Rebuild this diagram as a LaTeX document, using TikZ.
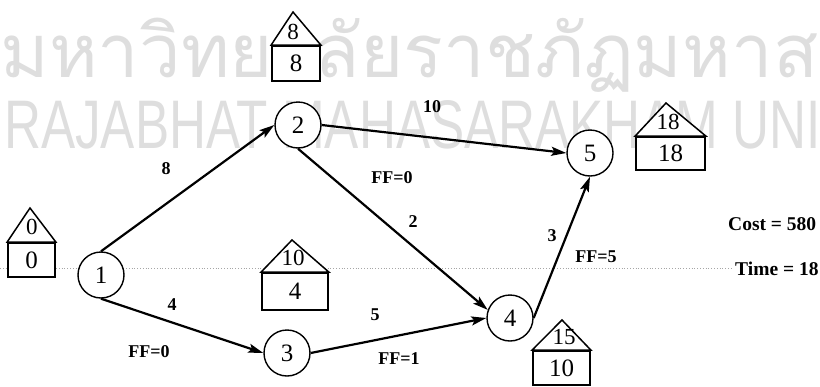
\documentclass[tikz,border=0pt]{standalone}
\usepackage{fontspec}
\setmainfont{Liberation Serif}
\setsansfont{Liberation Sans}
\newfontfamily\thaifont[Script=Thai]{Loma}
\usetikzlibrary{arrows.meta}
\definecolor{wm}{gray}{0.87}
\tikzset{
  ev/.style={circle, draw, line width=1.4pt, minimum size=46pt, inner sep=0pt, fill=white, font=\fontsize{25}{25}\selectfont},
  hbox/.style={draw, fill=white, line width=1.8pt, inner sep=0pt, font=\fontsize{25}{25}\selectfont},
  roof/.style={line width=1.5pt, line join=miter, fill=white},
  htxt/.style={inner sep=0pt, font=\fontsize{23}{23}\selectfont},
  lbl/.style={inner sep=0pt, font=\bfseries\fontsize{18}{18}\selectfont},
  side/.style={inner sep=0pt, anchor=west, font=\bfseries\fontsize{19.5}{19.5}\selectfont},
  arr/.style={line width=2.2pt, -{Stealth[length=15pt,width=9pt,inset=3pt]}},
  dotline/.style={gray!70, dotted, line width=0.8pt}
}
\begin{document}
\begin{tikzpicture}[x=1pt,y=-1pt]
\useasboundingbox (0,0) rectangle (820,386);
\clip (0,0) rectangle (820,386);
% watermark
\node[anchor=base west, inner sep=0pt, text=wm] (wmth) at (0,77) {\resizebox{818pt}{!}{\thaifont มหาวิทยาลัยราชภัฏมหาส}};
\node[anchor=base west, inner sep=0pt, text=wm] (wmen) at (4,148) {\resizebox{816pt}{48pt}{\sffamily RAJABHAT MAHASARAKHAM UNI}};
% dotted line
\coordinate (dl) at (0,268);
\coordinate (dr) at (733,268);
\draw[dotline] (dl) -- (dr);
% events
\node[ev] (n1) at (101,275) {1};
\node[ev] (n2) at (298,125) {2};
\node[ev] (n3) at (287,353) {3};
\node[ev] (n4) at (510,318) {4};
\node[ev] (n5) at (590,153) {5};
% arrows
\draw[arr] (n1.north) -- (n2.west);
\draw[arr] (n1.south) -- (n3.west);
\draw[arr] (n2.east) -- (n5.west);
\draw[arr] (n2.south) -- (n4.160);
\draw[arr] (n3.east) -- (n4.west);
\draw[arr] (n4.east) -- (n5.south);
% houses
\node[hbox, minimum width=47pt, minimum height=34pt] (b1) at (31.5,260) {0};
\coordinate (a1) at (30,208);
\draw[roof] (b1.north west) -- (a1) -- (b1.north east) -- cycle;
\node[htxt] (t1) at (32,227) {0};

\node[hbox, minimum width=48pt, minimum height=35pt] (b2) at (296,63.5) {8};
\coordinate (a2) at (293,12);
\draw[roof] (b2.north west) -- (a2) -- (b2.north east) -- cycle;
\node[htxt] (t2) at (293,32) {8};

\node[hbox, minimum width=66pt, minimum height=37pt] (b3) at (295,291.5) {4};
\coordinate (a3) at (292,240);
\draw[roof] (b3.north west) -- (a3) -- (b3.north east) -- cycle;
\node[htxt] (t3) at (293,258) {10};

\node[hbox, minimum width=57pt, minimum height=34pt] (b4) at (561.5,368) {10};
\coordinate (a4) at (562,320);
\draw[roof] (b4.north west) -- (a4) -- (b4.north east) -- cycle;
\node[htxt] (t4) at (564,337) {15};

\node[hbox, minimum width=69pt, minimum height=33pt] (b5) at (670.5,153.5) {18};
\coordinate (a5) at (666,103);
\draw[roof] (b5.north west) -- (a5) -- (b5.north east) -- cycle;
\node[htxt] (t5) at (668,122) {18};
% labels
\node[lbl] (l12) at (166,169) {8};
\node[lbl] (l25) at (432,107) {10};
\node[lbl] (f25) at (392,178) {FF=0};
\node[lbl] (l24) at (413,222) {2};
\node[lbl] (l13) at (172,305) {4};
\node[lbl] (f13) at (149,352) {FF=0};
\node[lbl] (l34) at (375,315) {5};
\node[lbl] (f34) at (399,359) {FF=1};
\node[lbl] (l45) at (552,236) {3};
\node[lbl] (f45) at (596,257) {FF=5};
\node[side] (cost) at (728,224) {Cost = 580};
\node[side] (time) at (735,269) {Time = 18};
\end{tikzpicture}
\end{document}
